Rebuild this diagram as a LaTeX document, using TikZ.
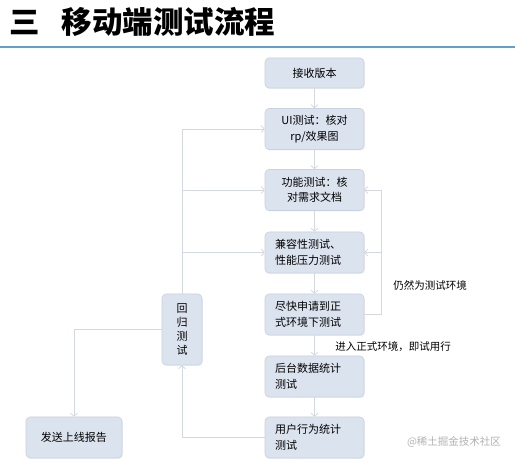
\documentclass[tikz,border=0pt]{standalone}
\usepackage{fontspec}
\setmainfont{Noto Sans CJK SC}
\usepackage{tikz}
\usetikzlibrary{arrows.meta,shadows}

\definecolor{boxfill}{RGB}{219,227,238}
\definecolor{boxline}{RGB}{200,210,224}
\definecolor{linkgray}{RGB}{212,217,224}
\definecolor{rulebl}{RGB}{96,160,204}

\tikzset{
  stepbox/.style={draw=boxline, fill=boxfill, rounded corners=4pt, line width=0.6pt,
    text width=79pt, inner xsep=10pt, inner ysep=4pt, minimum height=41pt,
    font=\fontsize{11}{15.5}\selectfont,
    drop shadow={opacity=0.12, shadow xshift=0.8pt, shadow yshift=-1pt}},
  link/.style={draw=linkgray, line width=0.8pt, -{Straight Barb[length=3pt,width=7pt]}},
  note/.style={font=\fontsize{10.5}{12}\selectfont, inner sep=0pt}
}

\begin{document}
\begin{tikzpicture}[x=1pt, y=-1pt]

% Canvas
\fill[white] (0,0) rectangle (515,462);
\useasboundingbox (0,0) rectangle (515,462);

% Main column
\def\cx{314.5}

% Title and rule
\node[anchor=west, inner sep=0pt, font=\fontsize{30.5}{33}\selectfont\bfseries] (title) at (9,22)
 {三\hspace{22pt}移动端测试流程};
\draw[rulebl, line width=1.6pt] (0,47) -- (515,47);

% Flow boxes
\node[stepbox, align=center, minimum height=30pt] (recv) at (\cx,73) {接收版本};
\node[stepbox, align=center] (ui) at (\cx,129) {UI测试：核对\\rp/效果图};
\node[stepbox, align=center] (func) at (\cx,190) {功能测试：核\\对需求文档};
\node[stepbox, align=left] (compat) at (\cx,252.5) {兼容性测试、\\性能压力测试};
\node[stepbox, align=left] (prod) at (\cx,314.5) {尽快申请到正\\式环境下测试};
\node[stepbox, align=left] (stats) at (\cx,376.5) {后台数据统计\\测试};
\node[stepbox, align=left] (user) at (\cx,437.5) {用户行为统计\\测试};

% Side boxes
\node[stepbox, align=center, text width=20pt, minimum height=71pt,
  font=\fontsize{11}{14}\selectfont] (regr) at (182,329.5) {回\\归\\测\\试};
\node[stepbox, align=center, text width=76pt] (send) at (74,437.5) {发送上线报告};

% Main flow
\draw[link] (recv) -- (ui);
\draw[link] (ui) -- (func);
\draw[link] (func) -- (compat);
\draw[link] (compat) -- (prod);
\draw[link] (prod) -- (stats);
\draw[link] (stats) -- (user);

% Regression loop
\draw[link] (user.west) -| (regr.south);
\draw[link] (regr.north) |- (ui.west);
\draw[link] (regr.north |- func.west) -- (func.west);
\draw[link] (regr.north |- compat.west) -- (compat.west);
\draw[link] (regr.west) -| (send.north);

% Back to test environment
\coordinate (rt) at (381,314.5);
\draw[link] (prod.east) -- (rt) |- (func.east);
\draw[link] (rt |- compat.east) -- (compat.east);

% Notes
\node[note] (envnote) at (430,285) {仍然为测试环境};
\node[note] (prodnote) at (393,347) {进入正式环境，即试用行};
\node[note, text=black!30] (mark) at (454,442) {@稀土掘金技术社区};

\end{tikzpicture}
\end{document}
